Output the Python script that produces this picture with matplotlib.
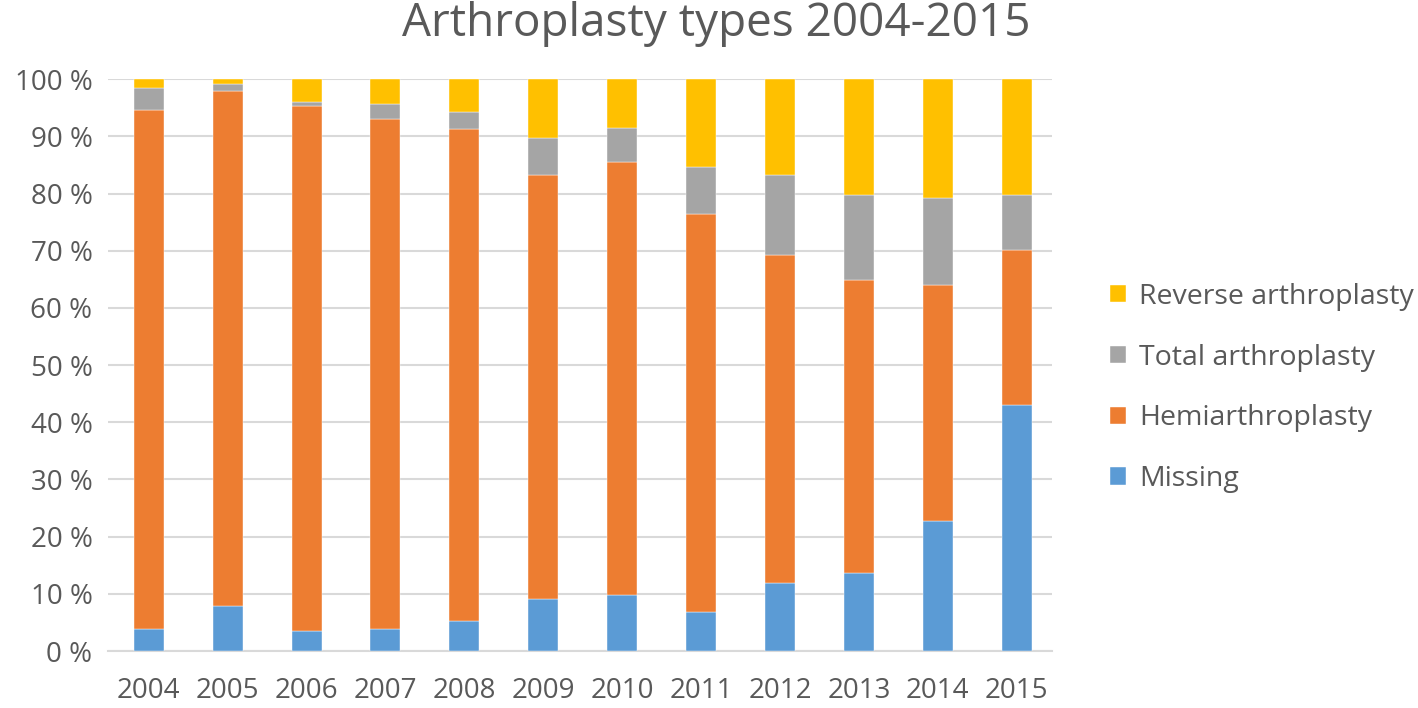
import matplotlib.pyplot as plt
import numpy as np
from matplotlib.ticker import FuncFormatter

years = ["2004", "2005", "2006", "2007", "2008", "2009",
         "2010", "2011", "2012", "2013", "2014", "2015"]

# shares in percent, stacked bottom to top
missing = [3.8, 7.9, 3.5, 3.8, 5.2, 9.1, 9.8, 6.8, 11.9, 13.6, 22.7, 43.0]
hemi = [90.9, 90.0, 91.8, 89.3, 86.1, 74.1, 75.7, 69.7, 57.4, 51.3, 41.3, 27.1]
total = [3.7, 1.2, 0.8, 2.6, 3.0, 6.6, 5.9, 8.2, 13.9, 14.9, 15.3, 9.6]
reverse = [1.6, 0.9, 3.9, 4.3, 5.7, 10.2, 8.6, 15.3, 16.8, 20.2, 20.7, 20.3]

series = [
    ("Missing", missing, "#5B9BD5"),
    ("Hemiarthroplasty", hemi, "#ED7D31"),
    ("Total arthroplasty", total, "#A5A5A5"),
    ("Reverse arthroplasty", reverse, "#FFC000"),
]

plt.rcParams["font.family"] = ["Open Sans", "DejaVu Sans"]
text_color = "#595959"

fig = plt.figure(figsize=(14.18, 7.08), dpi=100)
ax = fig.add_axes([0.076, 0.0805, 0.666, 0.8075])

x = np.arange(len(years))
bottom = np.zeros(len(years))
handles = []
for label, vals, color in series:
    vals = np.array(vals)
    b = ax.bar(x, vals, width=0.38, bottom=bottom, color=color, label=label,
               edgecolor="white", linewidth=0.3, zorder=3)
    handles.append(b)
    bottom += vals

ax.set_ylim(0, 100)
ax.set_xlim(-0.52, 11.45)
ax.set_yticks(np.arange(0, 101, 10))
ax.yaxis.set_major_formatter(FuncFormatter(lambda v, p: f"{v:.0f} %"))
ax.set_xticks(x)
ax.set_xticklabels(years)
ax.tick_params(axis="both", length=0, labelsize=20, labelcolor=text_color)
ax.tick_params(axis="x", pad=19)
ax.tick_params(axis="y", pad=11)
ax.grid(axis="y", color="#D9D9D9", linewidth=1.5, zorder=0)
ax.set_axisbelow(True)
for side in ["top", "right", "left"]:
    ax.spines[side].set_visible(False)
ax.spines["bottom"].set_color("#D9D9D9")
ax.spines["bottom"].set_linewidth(1.5)

fig.text(0.505, 0.966, "Arthroplasty types 2004-2015", ha="center", va="center",
         fontsize=33, color=text_color)

leg = fig.legend(handles[::-1], [s[0] for s in series][::-1],
                 loc="center left", bbox_to_anchor=(0.765, 0.452),
                 frameon=False, fontsize=20.5, labelspacing=1.15,
                 handlelength=0.55, handleheight=0.55, handletextpad=0.45)
for t in leg.get_texts():
    t.set_color(text_color)

fig.savefig("out.png", dpi=100)
